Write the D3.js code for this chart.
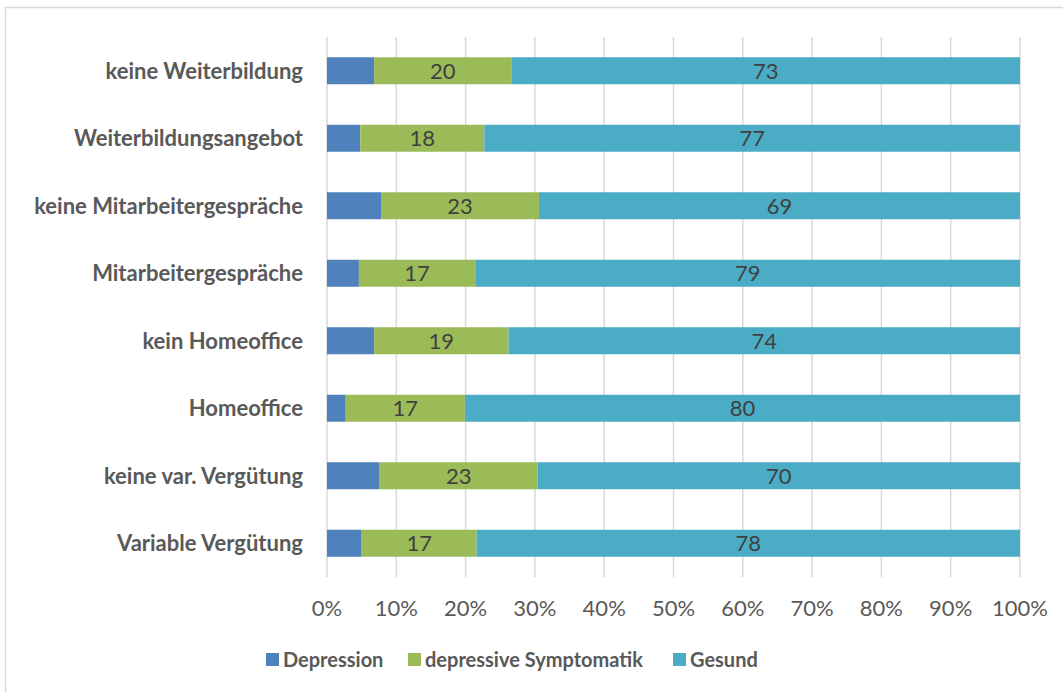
<!DOCTYPE html>
<html>
<head>
<meta charset="utf-8">
<script src="https://cdn.jsdelivr.net/npm/d3@7"></script>
<style>
  body { margin: 0; background: #fff; }
  svg { display: block; font-family: Lato, "Open Sans", sans-serif; }
</style>
</head>
<body>
<svg id="chart" width="1063" height="692"></svg>
<script>
// categories top to bottom
const categories = [
  "keine Weiterbildung",
  "Weiterbildungsangebot",
  "keine Mitarbeitergespräche",
  "Mitarbeitergespräche",
  "kein Homeoffice",
  "Homeoffice",
  "keine var. Vergütung",
  "Variable Vergütung"
];
const seriesNames = ["Depression", "depressive Symptomatik", "Gesund"];
const depression = [6.8, 4.8, 7.8, 4.6, 6.8, 2.7, 7.6, 5.0];
const symptomatik = [19.8, 17.9, 22.8, 16.8, 19.4, 17.2, 22.8, 16.6];
const gesund = [73.4, 77.3, 69.4, 78.6, 73.8, 80.1, 69.6, 78.4];
const seriesColors = ["#4f81bd", "#9bbb59", "#4bacc6"];
const tickValues = [0, 10, 20, 30, 40, 50, 60, 70, 80, 90, 100];

const svg = d3.select("#chart");

// outer chart border (extends past the picture on right/bottom)
svg.append("rect")
  .attr("x", 5.5).attr("y", 7.5)
  .attr("width", 1100).attr("height", 700)
  .attr("fill", "none")
  .attr("stroke", "#d9d9d9")
  .attr("stroke-width", 1.5);

const x = d3.scaleLinear().domain([0, 100]).range([327, 1020]);
const y = d3.scaleBand().domain(categories).range([37, 577]).paddingInner(0.6).paddingOuter(0.3);

// gridlines
svg.append("g")
  .selectAll("line")
  .data(tickValues)
  .join("line")
  .attr("x1", d => x(d)).attr("x2", d => x(d))
  .attr("y1", 37).attr("y2", 577)
  .attr("stroke", "#d9d9d9")
  .attr("stroke-width", 1.5);

// stack the data
const rows = categories.map((c, i) => ({
  cat: c,
  "Depression": depression[i],
  "depressive Symptomatik": symptomatik[i],
  "Gesund": gesund[i]
}));
const stacked = d3.stack().keys(seriesNames)(rows);

const layers = svg.append("g")
  .selectAll("g")
  .data(stacked)
  .join("g")
  .attr("fill", (d, i) => seriesColors[i]);

layers.selectAll("rect")
  .data(d => d)
  .join("rect")
  .attr("x", d => x(d[0]))
  .attr("y", d => y(d.data.cat))
  .attr("width", d => x(d[1]) - x(d[0]))
  .attr("height", y.bandwidth());

// data labels (only on the two larger series)
stacked.slice(1).forEach(layer => {
  svg.append("g")
    .selectAll("text")
    .data(layer)
    .join("text")
    .attr("x", d => (x(d[0]) + x(d[1])) / 2)
    .attr("y", d => y(d.data.cat) + y.bandwidth() / 2)
    .attr("dy", "0.36em")
    .attr("text-anchor", "middle")
    .attr("fill", "#404040")
    .style("font-size", "22px")
    .text(d => Math.round(d[1] - d[0]));
});

// category labels
svg.append("g")
  .selectAll("text")
  .data(categories)
  .join("text")
  .attr("x", 303)
  .attr("y", d => y(d) + y.bandwidth() / 2)
  .attr("dy", "0.36em")
  .attr("text-anchor", "end")
  .attr("fill", "#595959")
  .style("font-size", "22px")
  .style("font-weight", "bold")
  .text(d => d);

// x tick labels
svg.append("g")
  .selectAll("text")
  .data(tickValues)
  .join("text")
  .attr("x", d => x(d))
  .attr("y", 608)
  .attr("dy", "0.36em")
  .attr("text-anchor", "middle")
  .attr("fill", "#595959")
  .style("font-size", "22px")
  .text(d => d + "%");

// legend
const legendX = [266, 408, 673];
const legend = svg.append("g")
  .selectAll("g")
  .data(seriesNames)
  .join("g")
  .attr("transform", (d, i) => `translate(${legendX[i]},660)`);
legend.append("rect")
  .attr("x", 0).attr("y", -7)
  .attr("width", 13).attr("height", 13)
  .attr("fill", (d, i) => seriesColors[i]);
legend.append("text")
  .attr("x", 17)
  .attr("dy", "0.36em")
  .attr("fill", "#595959")
  .style("font-size", "20px")
  .style("font-weight", "bold")
  .text(d => d);
</script>
</body>
</html>
